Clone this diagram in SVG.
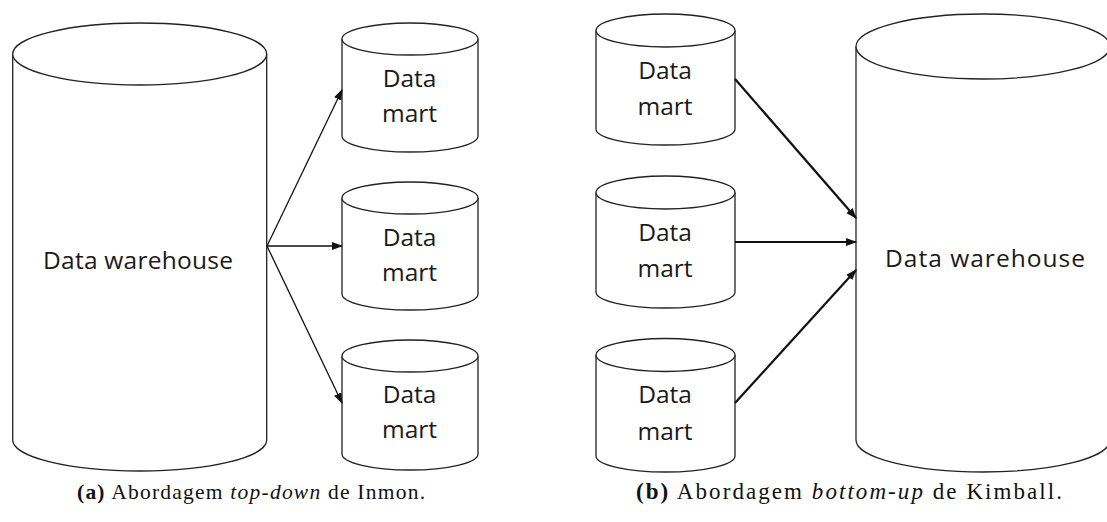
<svg xmlns="http://www.w3.org/2000/svg" width="1107" height="522" viewBox="0 0 1107 522">
<defs>
<style>
.cyl{fill:#fff;stroke:#222;stroke-width:1.3}
.lbl{font-family:"Open Sans","Noto Sans",sans-serif;font-size:24.5px;fill:#1a1a1a;text-anchor:middle}
.cap{font-family:"Liberation Serif","DejaVu Serif",serif;font-size:21.5px;fill:#111}
.c1{stroke:#111;stroke-width:1.3;fill:none;marker-end:url(#ah)}
.c2{stroke:#111;stroke-width:2.2;fill:none;marker-end:url(#ah)}
</style>
<marker id="ah" markerUnits="userSpaceOnUse" markerWidth="11" markerHeight="8" refX="10" refY="4" orient="auto">
<path d="M0,0 L11,4 L0,8 z" fill="#111"/>
</marker>
</defs>
<rect width="1107" height="522" fill="#fff"/>

<g id="dw-left">
<path class="cyl" d="M12.7,54 V440 A127,31 0 0 0 266.7,440 V54"/>
<ellipse class="cyl" cx="139.7" cy="54" rx="127" ry="31"/>
<text class="lbl" x="138" y="269" textLength="190">Data warehouse</text>
</g>

<g id="dm-l1">
<path class="cyl" d="M342,39 V136 A68,16 0 0 0 478,136 V39"/>
<ellipse class="cyl" cx="410" cy="39" rx="68" ry="16"/>
<text class="lbl" x="409.5" y="87">Data</text>
<text class="lbl" x="409.5" y="122">mart</text>
</g>
<g id="dm-l2">
<path class="cyl" d="M342,198 V294 A68,16 0 0 0 478,294 V198"/>
<ellipse class="cyl" cx="410" cy="198" rx="68" ry="16"/>
<text class="lbl" x="409.5" y="246">Data</text>
<text class="lbl" x="409.5" y="281">mart</text>
</g>
<g id="dm-l3">
<path class="cyl" d="M342,356 V454 A68,16 0 0 0 478,454 V356"/>
<ellipse class="cyl" cx="410" cy="356" rx="68" ry="16"/>
<text class="lbl" x="409.5" y="403">Data</text>
<text class="lbl" x="409.5" y="438">mart</text>
</g>

<g id="dm-r1">
<path class="cyl" d="M596,30.5 V129 A69.5,16 0 0 0 735,129 V30.5"/>
<ellipse class="cyl" cx="665.5" cy="30.5" rx="69.5" ry="16.5"/>
<text class="lbl" x="665" y="79">Data</text>
<text class="lbl" x="665" y="115">mart</text>
</g>
<g id="dm-r2">
<path class="cyl" d="M596,192.5 V292 A69.5,16 0 0 0 735,292 V192.5"/>
<ellipse class="cyl" cx="665.5" cy="192.5" rx="69.5" ry="16.5"/>
<text class="lbl" x="665" y="241">Data</text>
<text class="lbl" x="665" y="277">mart</text>
</g>
<g id="dm-r3">
<path class="cyl" d="M596,355 V456 A69.5,16 0 0 0 735,456 V355"/>
<ellipse class="cyl" cx="665.5" cy="355" rx="69.5" ry="16.5"/>
<text class="lbl" x="665" y="403">Data</text>
<text class="lbl" x="665" y="440">mart</text>
</g>

<g id="dw-right">
<path class="cyl" d="M856,46.5 V440 A127,32 0 0 0 1110,440 V46.5"/>
<ellipse class="cyl" cx="983" cy="46.5" rx="127" ry="32.5"/>
<text class="lbl" x="985" y="267" textLength="200">Data warehouse</text>
</g>

<g id="connectors">
<line class="c1" x1="267" y1="246" x2="342" y2="90"/>
<line class="c1" x1="267" y1="246" x2="342" y2="246"/>
<line class="c1" x1="267" y1="246" x2="342" y2="403"/>
<line class="c2" x1="735" y1="79" x2="856" y2="218"/>
<line class="c2" x1="735" y1="242" x2="856" y2="242"/>
<line class="c2" x1="735" y1="403" x2="856" y2="270"/>
</g>

<g id="captions">
<text class="cap" x="77" y="499" textLength="348"><tspan font-weight="bold">(a)</tspan> Abordagem <tspan font-style="italic">top-down</tspan> de Inmon.</text>
<text class="cap" x="636" y="499" style="font-size:23px" textLength="426"><tspan font-weight="bold">(b)</tspan> Abordagem <tspan font-style="italic">bottom-up</tspan> de Kimball.</text>
</g>
</svg>
